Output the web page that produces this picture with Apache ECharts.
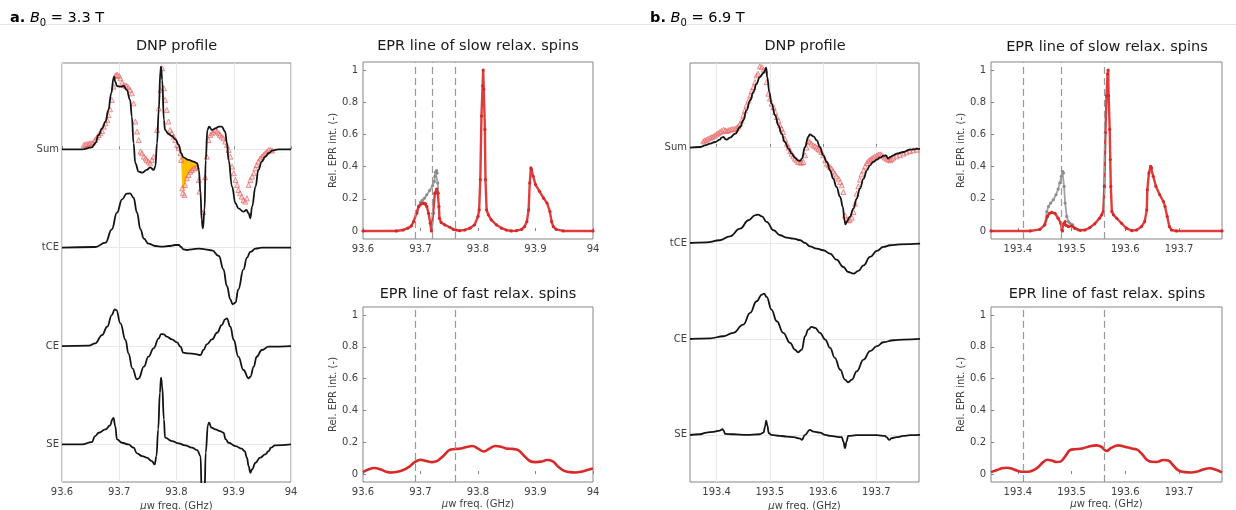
<!DOCTYPE html>
<html><head><meta charset="utf-8">
<script src="https://cdn.jsdelivr.net/npm/echarts@6/dist/echarts.min.js"></script>
<style>html,body{margin:0;padding:0;background:#fff}#c{width:1236px;height:510px}</style>
</head><body><div id="c"></div><script>
const FONT = 'DejaVu Sans';
const TXT = '#404040';

// ---------- panel a (B0 = 3.3 T) ----------
const aTicks = [93.6, 93.7, 93.8, 93.9, 94];
const traceNames = ['Sum', 'tCE', 'CE', 'SE'];
const aOffsets = [0, -1.19, -2.38, -3.57];

const aSumFit = [[93.600,0],[93.635,0],[93.652,0.024],[93.658,0.073],[93.664,0.173],[93.670,0.254],[93.676,0.335],[93.681,0.476],[93.686,0.677],[93.690,0.859],[93.691,0.879],[93.693,0.819],[93.696,0.766],[93.702,0.758],[93.708,0.766],[93.713,0.718],[93.719,0.597],[93.722,0.395],[93.725,0.073],[93.728,-0.169],[93.734,-0.270],[93.740,-0.282],[93.748,-0.250],[93.754,-0.218],[93.760,-0.250],[93.763,-0.210],[93.766,0.073],[93.769,0.476],[93.772,0.960],[93.773,1.0],[93.775,0.839],[93.778,0.355],[93.780,0.234],[93.786,0.185],[93.792,0.161],[93.798,0.121],[93.804,0.052],[93.808,-0.048],[93.812,-0.097],[93.821,-0.129],[93.830,-0.149],[93.836,-0.169],[93.839,-0.25],[93.842,-0.532],[93.844,-0.855],[93.846,-0.956],[93.849,-0.734],[93.851,-0.129],[93.854,0.234],[93.857,0.274],[93.862,0.234],[93.868,0.254],[93.874,0.274],[93.879,0.274],[93.885,0.214],[93.888,0.073],[93.891,-0.129],[93.897,-0.452],[93.903,-0.653],[93.908,-0.714],[93.917,-0.754],[93.922,-0.734],[93.926,-0.774],[93.929,-0.835],[93.932,-0.694],[93.938,-0.452],[93.943,-0.25],[93.949,-0.149],[93.955,-0.089],[93.961,-0.048],[93.967,-0.016],[93.978,0],[94.0,0]];

const aSumExp = [[93.638,0.052],[93.641,0.060],[93.644,0.065],[93.647,0.065],[93.649,0.073],[93.652,0.073],[93.655,0.085],[93.658,0.113],[93.661,0.145],[93.664,0.173],[93.667,0.194],[93.670,0.222],[93.673,0.274],[93.676,0.315],[93.679,0.355],[93.681,0.415],[93.684,0.484],[93.687,0.597],[93.690,0.758],[93.693,0.887],[93.695,0.899],[93.697,0.899],[93.700,0.887],[93.702,0.859],[93.705,0.806],[93.708,0.778],[93.711,0.766],[93.713,0.766],[93.716,0.750],[93.719,0.718],[93.722,0.677],[93.725,0.556],[93.728,0.335],[93.731,0.214],[93.734,0.113],[93.737,-0.028],[93.740,-0.048],[93.743,-0.089],[93.746,-0.109],[93.748,-0.129],[93.751,-0.149],[93.754,-0.169],[93.757,-0.129],[93.760,-0.089],[93.766,0.234],[93.769,0.496],[93.772,0.718],[93.775,0.980],[93.778,0.738],[93.780,0.597],[93.783,0.476],[93.786,0.335],[93.789,0.234],[93.792,0.194],[93.795,0.153],[93.798,0.113],[93.801,0.052],[93.804,0.012],[93.807,-0.048],[93.808,-0.129],[93.810,-0.472],[93.811,-0.532],[93.814,-0.552],[93.815,-0.431],[93.818,-0.351],[93.821,-0.310],[93.824,-0.270],[93.827,-0.250],[93.830,-0.230],[93.833,-0.230],[93.836,-0.210],[93.839,-0.371],[93.840,-0.512],[93.847,-0.758],[93.850,-0.339],[93.853,-0.089],[93.856,0.113],[93.859,0.173],[93.862,0.194],[93.865,0.214],[93.868,0.234],[93.871,0.214],[93.874,0.194],[93.876,0.173],[93.879,0.153],[93.882,0.133],[93.885,0.093],[93.888,0.052],[93.891,-0.008],[93.894,-0.089],[93.897,-0.210],[93.900,-0.290],[93.903,-0.371],[93.906,-0.431],[93.908,-0.492],[93.911,-0.532],[93.914,-0.573],[93.917,-0.613],[93.920,-0.633],[93.923,-0.593],[93.926,-0.431],[93.929,-0.371],[93.932,-0.331],[93.935,-0.290],[93.938,-0.230],[93.940,-0.190],[93.943,-0.149],[93.946,-0.109],[93.949,-0.089],[93.952,-0.069],[93.955,-0.048],[93.958,-0.028],[93.961,-0.008],[93.964,-0.008],[93.967,-0.016]];

const aGap = [[93.807,-0.03],[93.812,-0.097],[93.818,-0.118],[93.824,-0.135],[93.830,-0.149],[93.836,-0.163],[93.836,-0.205],[93.830,-0.228],[93.824,-0.265],[93.818,-0.345],[93.815,-0.43],[93.812,-0.52],[93.810,-0.47],[93.808,-0.12]];

const aTCE = [[93.600,0],[93.658,0.008],[93.676,0.06],[93.687,0.222],[93.696,0.423],[93.705,0.585],[93.713,0.653],[93.719,0.657],[93.725,0.605],[93.731,0.423],[93.737,0.222],[93.743,0.109],[93.751,0.048],[93.763,0.02],[93.775,0.012],[93.786,0.02],[93.798,0.032],[93.804,0.032],[93.808,0.008],[93.812,-0.02],[93.818,-0.028],[93.827,-0.02],[93.839,-0.012],[93.850,-0.02],[93.862,-0.032],[93.874,-0.101],[93.882,-0.262],[93.888,-0.464],[93.894,-0.625],[93.898,-0.685],[93.903,-0.665],[93.908,-0.504],[93.917,-0.262],[93.923,-0.121],[93.929,-0.052],[93.938,-0.012],[93.949,0],[94.0,0]];

const aCE = [[93.600,0],[93.647,0.004],[93.658,0.032],[93.670,0.133],[93.679,0.234],[93.687,0.375],[93.692,0.444],[93.695,0.435],[93.702,0.274],[93.711,0.073],[93.716,-0.089],[93.723,-0.27],[93.731,-0.403],[93.734,-0.391],[93.743,-0.25],[93.751,-0.129],[93.760,-0.028],[93.769,0.093],[93.773,0.145],[93.778,0.141],[93.783,0.113],[93.792,0.081],[93.801,0.044],[93.807,-0.008],[93.812,-0.081],[93.821,-0.089],[93.833,-0.097],[93.842,-0.109],[93.847,-0.048],[93.853,0.020],[93.862,0.081],[93.871,0.161],[93.879,0.254],[93.885,0.323],[93.888,0.335],[93.894,0.234],[93.900,0.073],[93.908,-0.129],[93.917,-0.290],[93.926,-0.391],[93.929,-0.371],[93.935,-0.250],[93.940,-0.129],[93.949,-0.048],[93.961,-0.008],[94.0,0]];

const aSE = [[93.600,0],[93.635,0],[93.652,0.028],[93.658,0.101],[93.664,0.141],[93.676,0.181],[93.684,0.23],[93.688,0.302],[93.690,0.319],[93.693,0.222],[93.696,0.06],[93.705,0.02],[93.716,0],[93.725,-0.04],[93.731,-0.109],[93.740,-0.141],[93.748,-0.161],[93.757,-0.202],[93.762,-0.242],[93.765,-0.141],[93.768,0.181],[93.771,0.625],[93.773,0.806],[93.775,0.706],[93.778,0.302],[93.780,0.081],[93.792,0.04],[93.804,0.012],[93.815,-0.012],[93.827,-0.04],[93.836,-0.069],[93.842,-0.141],[93.844,-0.6],[93.847,-0.6],[93.849,-0.6],[93.851,-0.101],[93.855,0.242],[93.857,0.262],[93.861,0.202],[93.868,0.181],[93.876,0.161],[93.882,0.141],[93.886,0.06],[93.891,0.02],[93.903,-0.02],[93.914,-0.052],[93.919,-0.081],[93.923,-0.161],[93.926,-0.262],[93.929,-0.343],[93.932,-0.302],[93.938,-0.222],[93.946,-0.161],[93.955,-0.121],[93.961,-0.081],[93.965,-0.04],[93.972,-0.012],[94.0,0]];

const aSlowRed = [[93.600,0],[93.658,0],[93.670,0.006],[93.678,0.017],[93.684,0.031],[93.688,0.058],[93.693,0.110],[93.697,0.152],[93.702,0.169],[93.706,0.173],[93.709,0.169],[93.711,0.152],[93.714,0.110],[93.717,0.048],[93.719,0],[93.722,0.110],[93.725,0.235],[93.728,0.260],[93.730,0.235],[93.732,0.152],[93.733,0.079],[93.736,0.052],[93.742,0.038],[93.751,0.023],[93.757,0.010],[93.762,0.006],[93.768,0.002],[93.777,0.006],[93.786,0.017],[93.794,0.038],[93.800,0.090],[93.802,0.131],[93.804,0.319],[93.806,0.715],[93.808,0.902],[93.809,1.0],[93.810,0.881],[93.812,0.631],[93.813,0.319],[93.815,0.131],[93.818,0.100],[93.823,0.069],[93.832,0.038],[93.841,0.017],[93.849,0.006],[93.858,0],[93.867,0.002],[93.876,0.010],[93.881,0.027],[93.885,0.058],[93.888,0.131],[93.890,0.298],[93.892,0.392],[93.893,0.381],[93.896,0.340],[93.900,0.288],[93.907,0.246],[93.914,0.204],[93.920,0.173],[93.925,0.121],[93.928,0.058],[93.931,0.027],[93.936,0.010],[93.948,0],[94.0,0]];
const aSlowGray = [[93.693,0.110],[93.694,0.115],[93.697,0.156],[93.700,0.177],[93.703,0.190],[93.707,0.204],[93.711,0.225],[93.716,0.252],[93.721,0.281],[93.724,0.308],[93.725,0.340],[93.726,0.365],[93.728,0.375],[93.729,0.360],[93.730,0.298],[93.731,0.235]];
const aFast = [[93.600,0.012],[93.610,0.030],[93.620,0.038],[93.630,0.030],[93.640,0.015],[93.650,0.010],[93.660,0.014],[93.670,0.025],[93.680,0.045],[93.690,0.075],[93.700,0.090],[93.710,0.082],[93.720,0.075],[93.730,0.085],[93.740,0.115],[93.750,0.150],[93.760,0.157],[93.770,0.160],[93.780,0.170],[93.790,0.176],[93.800,0.160],[93.810,0.142],[93.820,0.160],[93.830,0.176],[93.840,0.172],[93.850,0.160],[93.860,0.158],[93.870,0.150],[93.880,0.115],[93.890,0.082],[93.900,0.075],[93.910,0.078],[93.920,0.088],[93.930,0.080],[93.940,0.045],[93.950,0.020],[93.960,0.012],[93.970,0.010],[93.980,0.015],[93.990,0.025],[94.000,0.035]];
const aSlowDash = [93.685, 93.72, 93.757];
const aFastDash = [93.685, 93.757];

// ---------- panel b (B0 = 6.9 T) ----------
const bTicks = [193.4, 193.5, 193.6, 193.7];
const bOffsets = [0, -1.21, -2.42, -3.63];

const bSumFit = [[193.350,-0.008],[193.369,0],[193.378,0.021],[193.388,0.042],[193.397,0.063],[193.406,0.092],[193.409,0.118],[193.413,0.126],[193.416,0.101],[193.419,0.092],[193.425,0.118],[193.435,0.168],[193.444,0.252],[193.450,0.336],[193.456,0.462],[193.463,0.588],[193.469,0.693],[193.475,0.798],[193.481,0.882],[193.488,0.933],[193.491,0.966],[193.493,1.0],[193.495,0.882],[193.499,0.693],[193.503,0.546],[193.510,0.399],[193.516,0.273],[193.522,0.168],[193.528,0.063],[193.535,-0.021],[193.541,-0.084],[193.547,-0.134],[193.553,-0.168],[193.557,-0.176],[193.560,-0.147],[193.566,0],[193.572,0.126],[193.575,0.160],[193.582,0.134],[193.588,0.084],[193.594,0],[193.600,-0.105],[193.607,-0.189],[193.613,-0.294],[193.619,-0.399],[193.625,-0.504],[193.632,-0.630],[193.637,-0.756],[193.640,-0.924],[193.642,-0.975],[193.644,-0.945],[193.650,-0.882],[193.657,-0.777],[193.663,-0.651],[193.669,-0.525],[193.676,-0.399],[193.682,-0.294],[193.688,-0.231],[193.694,-0.189],[193.701,-0.160],[193.707,-0.134],[193.713,-0.113],[193.718,-0.105],[193.722,-0.147],[193.726,-0.126],[193.732,-0.105],[193.738,-0.084],[193.751,-0.063],[193.763,-0.034],[193.776,-0.025],[193.782,-0.025]];

const bSumExp = [[193.375,0.071],[193.378,0.084],[193.381,0.092],[193.384,0.105],[193.388,0.118],[193.391,0.126],[193.394,0.134],[193.397,0.147],[193.400,0.160],[193.403,0.176],[193.406,0.189],[193.409,0.202],[193.413,0.218],[193.416,0.210],[193.419,0.202],[193.422,0.210],[193.425,0.218],[193.428,0.223],[193.431,0.227],[193.435,0.231],[193.438,0.239],[193.441,0.261],[193.444,0.294],[193.447,0.336],[193.450,0.399],[193.453,0.462],[193.456,0.525],[193.460,0.588],[193.463,0.651],[193.466,0.706],[193.469,0.756],[193.472,0.819],[193.475,0.903],[193.478,0.924],[193.481,1.017],[193.485,1.008],[193.488,0.975],[193.491,0.966],[193.494,0.819],[193.497,0.672],[193.500,0.609],[193.503,0.546],[193.507,0.504],[193.510,0.441],[193.513,0.378],[193.516,0.336],[193.519,0.273],[193.522,0.231],[193.525,0.189],[193.528,0.105],[193.532,0.042],[193.535,-0.008],[193.538,-0.050],[193.541,-0.084],[193.544,-0.118],[193.547,-0.147],[193.550,-0.168],[193.553,-0.189],[193.557,-0.197],[193.560,-0.197],[193.563,-0.189],[193.566,-0.105],[193.569,-0.008],[193.572,0.076],[193.575,0.063],[193.578,0.042],[193.582,0.021],[193.585,0.008],[193.588,-0.008],[193.591,-0.025],[193.594,-0.042],[193.597,-0.063],[193.600,-0.105],[193.604,-0.168],[193.607,-0.210],[193.610,-0.231],[193.613,-0.252],[193.616,-0.273],[193.619,-0.307],[193.622,-0.336],[193.625,-0.370],[193.629,-0.399],[193.632,-0.441],[193.635,-0.483],[193.638,-0.567],[193.641,-0.861],[193.644,-0.924],[193.647,-0.924],[193.650,-0.916],[193.654,-0.891],[193.657,-0.819],[193.660,-0.714],[193.663,-0.588],[193.666,-0.496],[193.669,-0.412],[193.672,-0.345],[193.676,-0.294],[193.679,-0.244],[193.682,-0.202],[193.685,-0.176],[193.688,-0.160],[193.691,-0.147],[193.694,-0.134],[193.697,-0.118],[193.701,-0.105],[193.704,-0.097],[193.707,-0.092],[193.710,-0.101],[193.713,-0.118],[193.716,-0.134],[193.719,-0.147],[193.722,-0.160],[193.726,-0.168],[193.729,-0.151],[193.732,-0.134],[193.738,-0.118],[193.744,-0.101],[193.751,-0.084],[193.757,-0.067],[193.763,-0.050],[193.769,-0.042],[193.776,-0.034]];

const bTCE = [[193.350,0],[193.381,0.008],[193.406,0.034],[193.425,0.084],[193.444,0.181],[193.460,0.286],[193.472,0.349],[193.478,0.357],[193.485,0.336],[193.494,0.265],[193.507,0.160],[193.519,0.097],[193.532,0.067],[193.544,0.055],[193.557,0.034],[193.566,0],[193.575,-0.042],[193.588,-0.071],[193.600,-0.092],[193.613,-0.134],[193.625,-0.210],[193.638,-0.303],[193.647,-0.366],[193.657,-0.387],[193.666,-0.353],[193.676,-0.282],[193.688,-0.176],[193.701,-0.101],[193.713,-0.050],[193.726,-0.029],[193.744,-0.017],[193.782,-0.008]];

const bCE = [[193.350,0],[193.388,0.008],[193.413,0.034],[193.431,0.076],[193.450,0.181],[193.463,0.328],[193.475,0.475],[193.485,0.559],[193.489,0.571],[193.494,0.529],[193.503,0.370],[193.513,0.223],[193.525,0.076],[193.538,-0.050],[193.547,-0.134],[193.553,-0.168],[193.560,-0.134],[193.566,0.034],[193.572,0.118],[193.578,0.151],[193.585,0.139],[193.594,0.076],[193.604,-0.008],[193.613,-0.113],[193.622,-0.239],[193.632,-0.387],[193.641,-0.513],[193.647,-0.546],[193.654,-0.513],[193.663,-0.408],[193.676,-0.261],[193.688,-0.155],[193.701,-0.092],[193.713,-0.042],[193.732,-0.017],[193.751,-0.008],[193.782,0]];

const bSE = [[193.350,0],[193.369,0.008],[193.381,0.029],[193.394,0.038],[193.406,0.055],[193.411,0.071],[193.413,0.055],[193.416,0.013],[193.431,0.008],[193.456,0],[193.481,0.008],[193.488,0.029],[193.491,0.105],[193.493,0.181],[193.495,0.126],[193.498,0.021],[193.503,0],[193.519,-0.013],[193.532,-0.021],[193.544,-0.029],[193.557,-0.046],[193.560,-0.063],[193.566,0],[193.575,0.063],[193.582,0.042],[193.594,0.029],[193.604,0],[193.613,-0.013],[193.635,-0.029],[193.638,-0.084],[193.641,-0.168],[193.644,-0.084],[193.647,-0.013],[193.663,-0.004],[193.701,-0.004],[193.716,-0.013],[193.719,-0.029],[193.724,-0.063],[193.729,-0.042],[193.738,-0.029],[193.751,-0.013],[193.763,-0.004],[193.782,0]];

const bSlowRed = [[193.350,0],[193.423,0],[193.441,0.010],[193.450,0.038],[193.455,0.090],[193.459,0.110],[193.463,0.115],[193.469,0.110],[193.475,0.079],[193.480,0.048],[193.482,0.006],[193.483,0],[193.486,0.048],[193.488,0.058],[193.490,0.035],[193.494,0.027],[193.500,0.031],[193.506,0.017],[193.516,0.004],[193.525,0.006],[193.534,0.021],[193.543,0.044],[193.552,0.079],[193.556,0.100],[193.559,0.121],[193.561,0.277],[193.563,0.610],[193.565,0.840],[193.567,0.975],[193.568,1.0],[193.569,0.840],[193.571,0.631],[193.572,0.444],[193.573,0.277],[193.575,0.121],[193.578,0.100],[193.584,0.079],[193.593,0.048],[193.602,0.017],[193.612,0.002],[193.621,0.006],[193.630,0.027],[193.636,0.058],[193.640,0.131],[193.641,0.256],[193.644,0.360],[193.647,0.402],[193.649,0.392],[193.652,0.340],[193.657,0.277],[193.664,0.225],[193.671,0.183],[193.674,0.152],[193.678,0.090],[193.682,0.027],[193.686,0.006],[193.695,0],[193.780,0]];
const bSlowGray = [[193.450,0.038],[193.454,0.121],[193.457,0.152],[193.461,0.173],[193.466,0.194],[193.471,0.225],[193.475,0.260],[193.478,0.298],[193.481,0.340],[193.483,0.371],[193.485,0.360],[193.486,0.277],[193.488,0.173],[193.491,0.090],[193.494,0.058],[193.497,0.048],[193.502,0.038],[193.506,0.017],[193.512,0.006]];
const bFast = [[193.350,0.012],[193.361,0.025],[193.370,0.036],[193.379,0.040],[193.388,0.035],[193.398,0.022],[193.410,0.014],[193.419,0.014],[193.429,0.025],[193.438,0.045],[193.447,0.075],[193.455,0.090],[193.463,0.085],[193.472,0.076],[193.480,0.080],[193.488,0.110],[193.497,0.150],[193.506,0.156],[193.519,0.160],[193.531,0.172],[193.547,0.180],[193.556,0.170],[193.565,0.145],[193.574,0.165],[193.587,0.180],[193.599,0.172],[193.612,0.160],[193.621,0.155],[193.630,0.130],[193.640,0.090],[193.649,0.077],[193.658,0.076],[193.671,0.088],[193.680,0.085],[193.689,0.055],[193.698,0.025],[193.711,0.012],[193.723,0.010],[193.736,0.018],[193.748,0.032],[193.757,0.036],[193.770,0.025],[193.780,0.010]];
const bSlowDash = [193.41, 193.483, 193.557];
const bFastDash = [193.41, 193.557];

const eprTicks = [0, 0.2, 0.4, 0.6, 0.8, 1];

// ---------- building the option ----------
const shift = (arr, off) => arr.map(p => [p[0], p[1] + off]);
const gridBase = {show: true, borderColor: '#858585', borderWidth: 1, backgroundColor: '#fff', containLabel: false, outerBoundsMode: 'none'};
const grids = [
  {left: 62, top: 63, width: 229, height: 419},
  {left: 363, top: 62, width: 230, height: 177},
  {left: 363, top: 307, width: 230, height: 175},
  {left: 690, top: 63, width: 229, height: 419},
  {left: 991, top: 62, width: 231, height: 177},
  {left: 991, top: 307, width: 231, height: 175}
].map(g => Object.assign({}, gridBase, g));

const freqName = '{m|\u03bc}w freq. (GHz)';
function xAx(gi, min, max, ticks, grid, named) {
  return {
    gridIndex: gi, type: 'value', min, max,
    axisLine: {show: false},
    axisTick: {show: true, inside: true, length: 3, customValues: ticks, lineStyle: {color: '#858585'}},
    axisLabel: {customValues: ticks, fontSize: 10, color: TXT, fontFamily: FONT, margin: 5,
      formatter: v => String(+(+v).toFixed(1))},
    splitLine: {show: grid, lineStyle: {color: '#e8e8e8', width: 1}},
    name: named ? freqName : '', nameLocation: 'middle', nameGap: 17,
    nameTextStyle: {fontSize: 10, color: TXT, fontFamily: FONT,
      rich: {m: {fontStyle: 'italic', fontSize: 10, color: TXT, fontFamily: FONT}}}
  };
}
function yDnp(gi, min, max, offs) {
  return {
    gridIndex: gi, type: 'value', min, max,
    axisLine: {show: false},
    axisTick: {show: true, inside: true, length: 3, customValues: offs, lineStyle: {color: '#858585'}},
    axisLabel: {customValues: offs, fontSize: 10, color: TXT, fontFamily: FONT, margin: 3,
      formatter: v => { const i = offs.findIndex(o => Math.abs(o - v) < 1e-6); return i >= 0 ? traceNames[i] : ''; }},
    splitLine: {show: true, lineStyle: {color: '#e8e8e8', width: 1}}
  };
}
function yEpr(gi) {
  return {
    gridIndex: gi, type: 'value', min: -0.05, max: 1.05,
    axisLine: {show: false},
    axisTick: {show: true, inside: true, length: 3, customValues: eprTicks, lineStyle: {color: '#858585'}},
    axisLabel: {customValues: eprTicks, fontSize: 10, color: TXT, fontFamily: FONT, margin: 5,
      formatter: v => String(+(+v).toFixed(1))},
    splitLine: {show: false},
    name: 'Rel. EPR int. (-)', nameLocation: 'middle', nameGap: 17,
    nameTextStyle: {fontSize: 10, color: TXT, fontFamily: FONT}
  };
}

const xAxes = [
  xAx(0, 93.6, 94, aTicks, true, true),
  xAx(1, 93.6, 94, aTicks, false, false),
  xAx(2, 93.6, 94, aTicks, false, true),
  xAx(3, 193.35, 193.78, bTicks, true, true),
  xAx(4, 193.35, 193.78, bTicks, false, false),
  xAx(5, 193.35, 193.78, bTicks, false, true)
];
const yAxes = [
  yDnp(0, -4.025, 1.044, aOffsets), yEpr(1), yEpr(2),
  yDnp(3, -4.224, 1.059, bOffsets), yEpr(4), yEpr(5)
];

function blackLine(idx, data) {
  return {type: 'line', xAxisIndex: idx, yAxisIndex: idx, data, showSymbol: false, smooth: 0.45,
    smoothMonotone: 'x', lineStyle: {color: '#141414', width: 1.8}, z: 4, silent: true};
}
function expMarkers(idx, data) {
  return {type: 'scatter', xAxisIndex: idx, yAxisIndex: idx, data, symbol: 'triangle', symbolSize: 5,
    itemStyle: {color: 'rgba(255,185,185,0.55)', borderColor: '#e25a5a', borderWidth: 0.8}, z: 3, silent: true};
}
function dashes(list) {
  return {silent: true, symbol: ['none', 'none'], label: {show: false}, animation: false,
    lineStyle: {color: '#9a9a9a', type: [7, 4], width: 1.2}, data: list.map(x => ({xAxis: x}))};
}
function dotLine(idx, data, color, lineColor, width, z, mark) {
  const s = {type: 'line', xAxisIndex: idx, yAxisIndex: idx, data, symbol: 'circle', symbolSize: 3.2,
    showSymbol: true, itemStyle: {color}, lineStyle: {color: lineColor, width}, z, silent: true};
  if (mark) s.markLine = mark;
  return s;
}
function fastLine(idx, data, mark) {
  return {type: 'line', xAxisIndex: idx, yAxisIndex: idx, data, showSymbol: false, smooth: 0.4,
    lineStyle: {color: '#d92a2a', width: 2.6}, z: 4, silent: true, markLine: mark};
}
function gapPoly(idx, poly) {
  return {type: 'custom', xAxisIndex: idx, yAxisIndex: idx, data: [[poly[0][0], poly[0][1]]], z: 2, silent: true,
    renderItem: (params, api) => ({type: 'polygon', shape: {points: poly.map(p => api.coord(p))}, style: {fill: '#ffbf00'}})};
}

const series = [
  gapPoly(0, aGap),
  expMarkers(0, aSumExp),
  blackLine(0, shift(aSumFit, aOffsets[0])),
  blackLine(0, shift(aTCE, aOffsets[1])),
  blackLine(0, shift(aCE, aOffsets[2])),
  blackLine(0, shift(aSE, aOffsets[3])),
  dotLine(1, aSlowGray, '#8c8c8c', 'rgba(140,140,140,0.8)', 1.8, 3, null),
  dotLine(1, aSlowRed, '#d82828', 'rgba(218,40,40,0.9)', 2.4, 4, dashes(aSlowDash)),
  fastLine(2, aFast, dashes(aFastDash)),
  expMarkers(3, bSumExp),
  blackLine(3, shift(bSumFit, bOffsets[0])),
  blackLine(3, shift(bTCE, bOffsets[1])),
  blackLine(3, shift(bCE, bOffsets[2])),
  blackLine(3, shift(bSE, bOffsets[3])),
  dotLine(4, bSlowGray, '#8c8c8c', 'rgba(140,140,140,0.8)', 1.8, 3, null),
  dotLine(4, bSlowRed, '#d82828', 'rgba(218,40,40,0.9)', 2.4, 4, dashes(bSlowDash)),
  fastLine(5, bFast, dashes(bFastDash))
];

function title(x, y, text) {
  return {type: 'text', x, y, silent: true,
    style: {text, fontSize: 14.5, fontFamily: FONT, fill: '#1a1a1a', align: 'center', verticalAlign: 'middle'}};
}
function header(x, label, val) {
  return {type: 'text', x, y: 8, silent: true,
    style: {text: '{b|' + label + '}{n| }{i|B}{s|0}{n| = ' + val + '}', fontSize: 14.5, fontFamily: FONT, fill: '#000',
      align: 'left', verticalAlign: 'top',
      rich: {
        b: {fontWeight: 'bold', fontSize: 14.5, lineHeight: 20, fontFamily: FONT, fill: '#000'},
        n: {fontSize: 14.5, lineHeight: 20, fontFamily: FONT, fill: '#000'},
        i: {fontStyle: 'italic', fontSize: 14.5, lineHeight: 20, fontFamily: FONT, fill: '#000'},
        s: {fontSize: 10, lineHeight: 11, verticalAlign: 'bottom', fontFamily: FONT, fill: '#000'}
      }}};
}

const graphic = [
  {type: 'line', silent: true, shape: {x1: 0, y1: 24.5, x2: 1236, y2: 24.5}, style: {stroke: '#e6e6e6', lineWidth: 1}},
  header(10, 'a.', '3.3 T'),
  header(650, 'b.', '6.9 T'),
  title(176.5, 46.5, 'DNP profile'),
  title(478, 46.5, 'EPR line of slow relax. spins'),
  title(478, 294.5, 'EPR line of fast relax. spins'),
  title(805, 46.5, 'DNP profile'),
  title(1107, 47, 'EPR line of slow relax. spins'),
  title(1107, 294.5, 'EPR line of fast relax. spins')
];

const chart = echarts.init(document.getElementById('c'), null, {renderer: 'canvas'});
chart.setOption({
  animation: false,
  backgroundColor: '#fff',
  textStyle: {fontFamily: FONT},
  grid: grids, xAxis: xAxes, yAxis: yAxes, series, graphic
});
</script></body></html>
